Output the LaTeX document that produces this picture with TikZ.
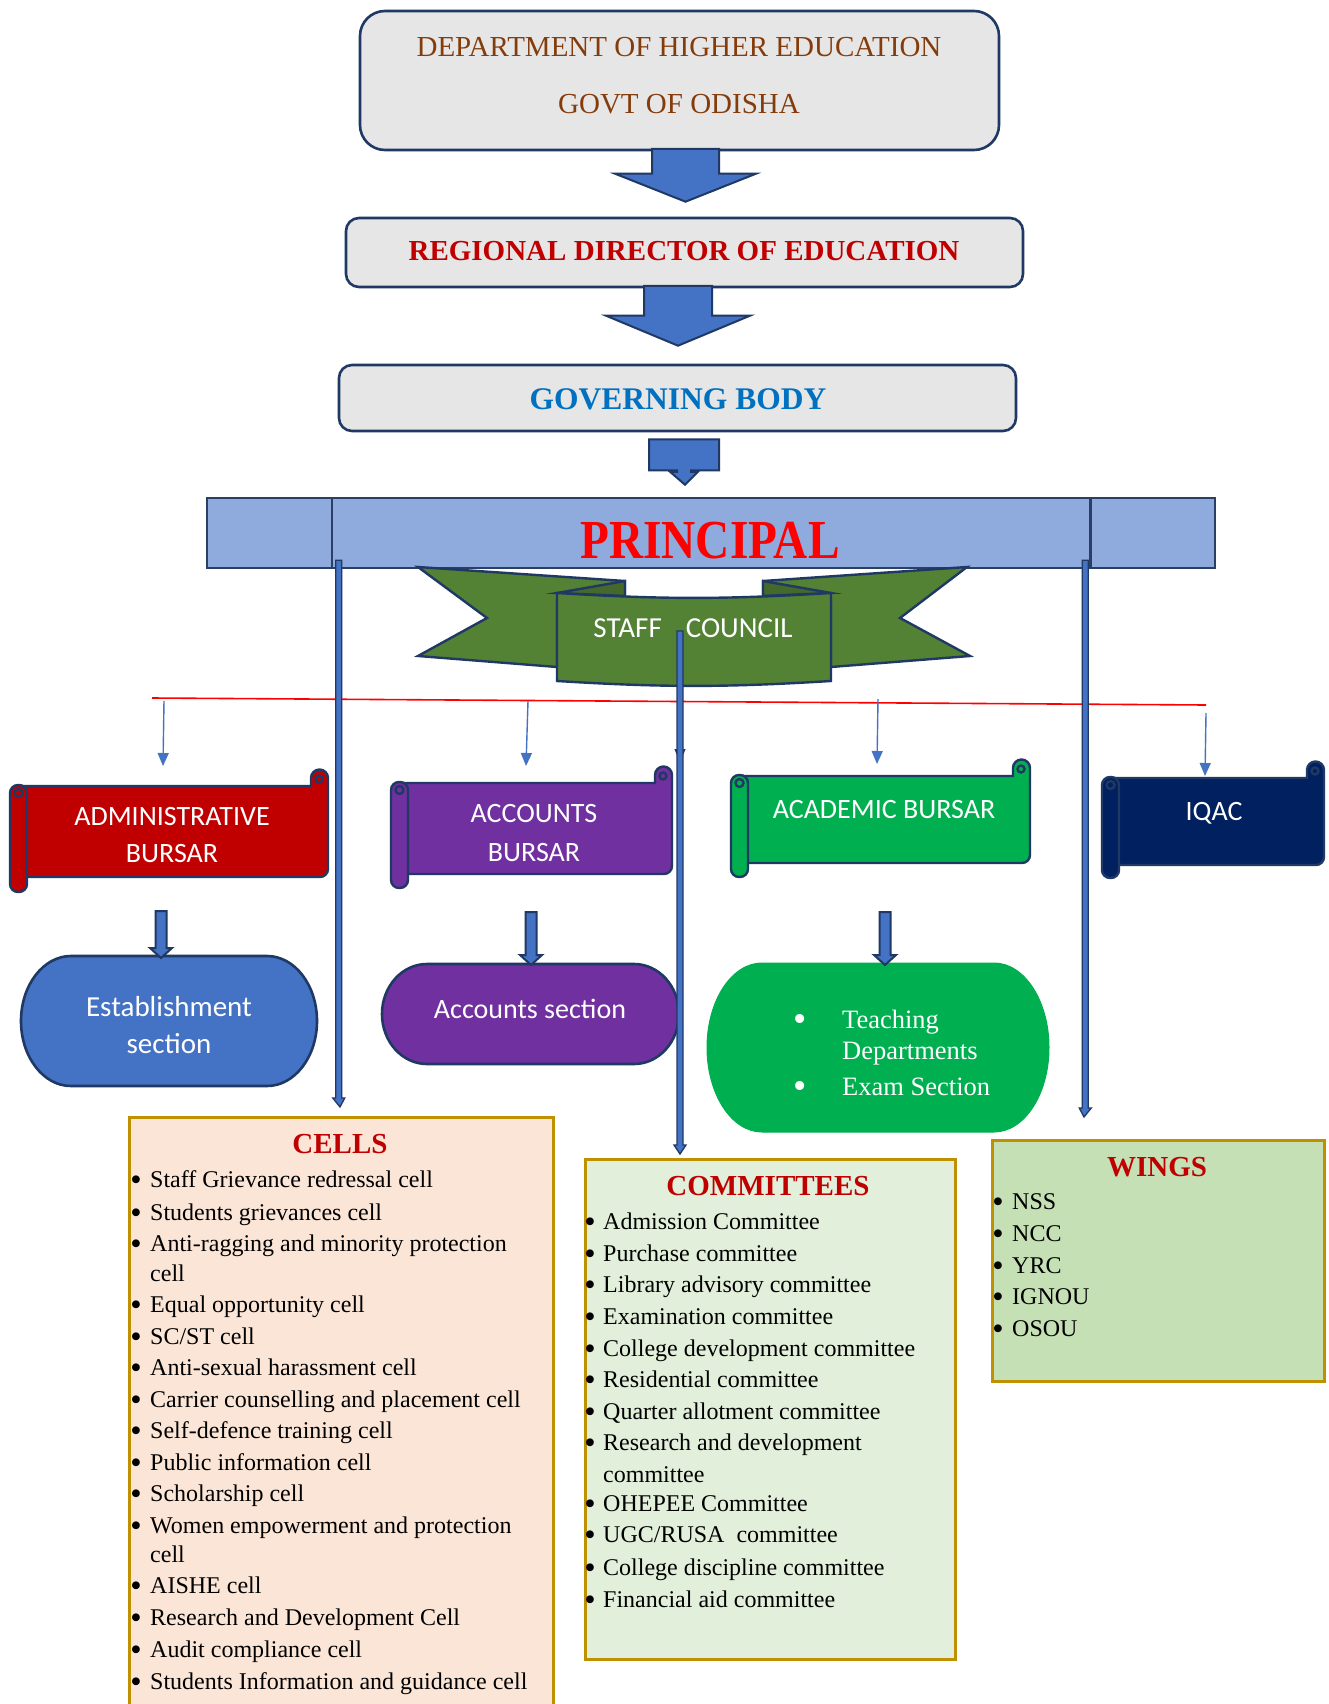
\documentclass[tikz,border=0pt]{standalone}
\usepackage{fontspec}
\setmainfont{Liberation Serif}
\newfontfamily\calfont{Carlito}
\usetikzlibrary{calc,arrows.meta}
\definecolor{navy}{HTML}{1F3864}
\definecolor{arrblue}{HTML}{4472C4}
\definecolor{boxgray}{HTML}{E7E6E6}
\definecolor{brownt}{HTML}{843C0C}
\definecolor{darkred}{HTML}{C00000}
\definecolor{govblue}{HTML}{0070C0}
\definecolor{princfill}{HTML}{8FAADC}
\definecolor{princline}{HTML}{2A3F63}
\definecolor{ribgreen}{HTML}{548235}
\definecolor{folddark}{HTML}{44692B}
\definecolor{purp}{HTML}{7030A0}
\definecolor{brightgreen}{HTML}{00B050}
\definecolor{iqacnavy}{HTML}{002060}
\definecolor{peach}{HTML}{FBE5D6}
\definecolor{palegreen}{HTML}{E2EFDA}
\definecolor{wingsgreen}{HTML}{C5E0B4}
\definecolor{gold}{HTML}{BF9000}
\definecolor{pred}{HTML}{FF0000}

\newcommand\fatarrow[6]{%
  \draw[#6] let \p1=(#1), \p2=(#2) in
    (\x1-#3,\y1) -- (\x1+#3,\y1) -- (\x1+#3,\y2+#5) -- (\x1+#4,\y2+#5) -- (\x2,\y2)
    -- (\x1-#4,\y2+#5) -- (\x1-#3,\y2+#5) -- cycle;}
\newcommand\scrollshape[6]{%
  \draw[scrollline, fill=#6] ({#1+8},{-#2}) -- ({#3-17},{-#2}) -- ({#3-17},{-#2+8})
    arc[start angle=180,end angle=0,radius=8.5] [rounded corners=8pt] -- ({#3},{-#4})
    -- ({#1+8},{-#4}) [sharp corners] -- cycle;
  \draw[scrollline] ({#3-9},{-#2+7}) circle[radius=3.5];
  \draw[scrollline, fill=#6, rounded corners=8pt] ({#1},{-#2+1}) rectangle ({#1+17},{-#5});
  \draw[scrollline] ({#1+8.5},{-#2-7}) circle[radius=4];}
\newcommand\stadium[6]{%
  \draw[#6] ({#1+#5},{-#2}) -- ({#3-#5},{-#2})
    arc[start angle=90,end angle=-90,x radius=#5,y radius={(#4-#2)/2}]
    -- ({#1+#5},{-#4})
    arc[start angle=270,end angle=90,x radius=#5,y radius={(#4-#2)/2}] -- cycle;}
\newcommand\bul{\raisebox{-3.5pt}{\scalebox{1.35}{•}}}

\begin{document}
\begin{tikzpicture}[x=1pt,y=1pt,
  box/.style={draw=navy, line width=2.6pt, fill=boxgray, inner sep=0pt},
  txt/.style={inner sep=0pt, anchor=base},
  ltxt/.style={inner sep=0pt, anchor=base west},
  serif29/.style={font=\fontsize{29}{34}\selectfont},
  bold29/.style={font=\fontsize{29}{34}\selectfont\bfseries},
  itemf/.style={font=\fontsize{24}{29}\selectfont},
  sansw/.style={font=\calfont\fontsize{28}{34}\selectfont, text=white},
  blockarr/.style={draw=navy, line width=2pt, fill=arrblue},
  longarr/.style={draw=navy, line width=1.3pt, fill=arrblue},
  thinarr/.style={draw=arrblue, line width=1.4pt, -{Triangle[width=11pt,length=13pt]}},
  scrollline/.style={draw=navy, line width=2.4pt},
  ribline/.style={draw=navy, line width=2.4pt},
  listbox/.style={draw=gold, line width=2.5pt, anchor=north west, inner sep=0pt},
]
\useasboundingbox (0,0) rectangle (1329,-1704);
\fill[white] (0,0) rectangle (1329,-1704);

% top boxes
\node[box, rounded corners=25pt, minimum width=639pt, minimum height=139pt] (dept) at (679.5,-80.5) {};
\node[txt, serif29, text=brownt] (deptt1) at (679,-56.6) {DEPARTMENT OF HIGHER EDUCATION};
\node[txt, serif29, text=brownt] (deptt2) at (679,-113.6) {GOVT OF ODISHA};
\node[box, rounded corners=13pt, minimum width=677pt, minimum height=69pt] (rde) at (684.5,-252.5) {};
\node[txt, bold29, text=darkred] (rdet) at (684,-260.6) {REGIONAL DIRECTOR OF EDUCATION};
\node[box, rounded corners=13pt, minimum width=677pt, minimum height=66pt] (gov) at (677.5,-398) {};
\node[txt, font=\fontsize{31.5}{36}\selectfont\bfseries, text=govblue] (govt) at (678,-409) {GOVERNING BODY};

% principal bar
\node[draw=princline, line width=2.5pt, fill=princfill, minimum width=1008pt, minimum height=70pt, inner sep=0pt] (princ) at (711,-533) {};
\draw[princline, line width=2.5pt] ($(princ.north west)+(126,-1)$) -- ($(princ.south west)+(126,1)$);
\draw[princline, line width=2.5pt] ($(princ.north east)+(-126,-1)$) -- ($(princ.south east)+(-126,1)$);
\node[txt, font=\fontsize{55}{60}\selectfont\bfseries, text=pred] (princt) at (710,-558) {\scalebox{0.86}[1]{PRINCIPAL}};

% block arrows
\coordinate (a1s) at ($(dept.south)+(6,2.5)$);
\coordinate (a1e) at ($(rde.north)+(1,15)$);
\fatarrow{a1s}{a1e}{33.5}{70.5}{28}{blockarr}
\coordinate (a2s) at ($(rde.south)+(-6.5,2.5)$);
\coordinate (a2e) at ($(gov.north)+(0.5,18)$);
\fatarrow{a2s}{a2e}{34}{72}{30}{blockarr}
\coordinate (a3s) at ($(gov.south)+(6.5,-7)$);
\coordinate (a3e) at ($(princ.north)+(-26,12)$);
\draw[blockarr] let \p1=(a3s), \p2=(a3e) in
  (\x1-35,\y1) -- (\x1+35,\y1) -- (\x1+35,\y1-31) -- (\x1+7,\y1-31) -- (\x1+7,\y2+13)
  -- (\x1+14,\y2+13) -- (\x2,\y2) -- (\x1-14,\y2+13) -- (\x1-7,\y2+13) -- (\x1-7,\y1-31)
  -- (\x1-35,\y1-31) -- cycle;

% staff council ribbon
\draw[ribline, fill=ribgreen] (418,-567) -- (625,-581) -- (625,-600) -- (557,-600) -- (557,-667) -- (418,-656) -- (487,-618) -- cycle;
\draw[ribline, fill=folddark] (625,-581) -- (557,-593) -- (625,-596) -- cycle;
\draw[ribline, fill=ribgreen] (967,-567) -- (763,-581) -- (763,-600) -- (831,-600) -- (831,-667) -- (970,-656) -- (900,-618) -- cycle;
\draw[ribline, fill=folddark] (763,-581) -- (831,-593) -- (763,-596) -- cycle;
\draw[ribline, fill=ribgreen] (557,-593) to[bend right=3.5] (831,-593) -- (831,-681) to[bend left=3.5] (557,-681) -- cycle;
\node[txt, sansw, font=\calfont\fontsize{29}{34}\selectfont] (staff) at (693,-637) {STAFF\hspace*{24pt}COUNCIL};

% red line
\coordinate (rl1) at (152,-698);
\coordinate (rl2) at (1206,-705);
\draw[pred, line width=1.6pt] (rl1) -- (rl2);

% scrolls
\scrollshape{10}{786}{328}{877}{892}{darkred}
\scrollshape{391}{783}{672}{874}{888}{purp}
\scrollshape{731}{776}{1030}{863}{877}{brightgreen}
\scrollshape{1102}{778}{1324}{865}{878}{iqacnavy}
\node[txt, sansw] (admin) at (172,-825) {ADMINISTRATIVE};
\node[txt, sansw] (admin2) at (172,-862) {BURSAR};
\node[txt, sansw] (acc) at (534,-822) {ACCOUNTS};
\node[txt, sansw] (acc2) at (534,-861) {BURSAR};
\node[txt, sansw] (acad) at (884,-818) {ACADEMIC BURSAR};
\node[txt, sansw] (iqac) at (1214,-820) {IQAC};

% thin arrows from red line
\coordinate (ra1) at (164,-701); \coordinate (ta1) at (163,-766);
\coordinate (ra2) at (528,-701); \coordinate (ta2) at (526,-766);
\coordinate (ra3) at (878,-699); \coordinate (ta3) at (877,-764);
\coordinate (ra4) at (1206,-713); \coordinate (ta4) at (1205,-776);
\draw[thinarr] (ra1) -- (ta1);
\draw[thinarr] (ra2) -- (ta2);
\draw[thinarr] (ra3) -- (ta3);
\draw[thinarr] (ra4) -- (ta4);

% sections
\stadium{21}{956}{317}{1086}{50}{draw=navy, line width=2.6pt, fill=arrblue}
\stadium{382}{964}{679}{1064}{45}{draw=navy, line width=2.6pt, fill=purp}
\stadium{707}{963}{1049}{1132}{55}{draw=brightgreen, line width=1pt, fill=brightgreen}
\node[txt, sansw, font=\calfont\fontsize{29}{34}\selectfont] (est1) at (169,-1016) {Establishment};
\node[txt, sansw, font=\calfont\fontsize{29}{34}\selectfont] (est2) at (169,-1053) {section};
\node[txt, sansw] (accsec) at (530,-1018) {Accounts section};
\node[txt, text=white, font=\fontsize{28}{34}\selectfont] (ab1) at (800,-1028) {\bul};
\node[txt, text=white, font=\fontsize{28}{34}\selectfont] (ab2) at (800,-1095) {\bul};
\node[ltxt, text=white, font=\fontsize{26.5}{30}\selectfont] (tea1) at (842,-1028) {Teaching};
\node[ltxt, text=white, font=\fontsize{26.5}{30}\selectfont] (tea2) at (842,-1059) {Departments};
\node[ltxt, text=white, font=\fontsize{26.5}{30}\selectfont] (exs) at (842,-1095) {Exam Section};

% bursar -> section arrows
\coordinate (f1s) at (161,-911); \coordinate (f1e) at (161,-958);
\coordinate (f2s) at (531,-912); \coordinate (f2e) at (531,-965);
\coordinate (f3s) at (885,-912); \coordinate (f3e) at (885,-965);
\fatarrow{f1s}{f1e}{5.5}{11}{10}{blockarr}
\fatarrow{f2s}{f2e}{5.5}{11}{10}{blockarr}
\fatarrow{f3s}{f3e}{5.5}{11}{10}{blockarr}

% lists
\node[listbox, fill=peach, minimum width=424pt, minimum height=600pt] (cells) at (128,-1116) {};
\node[listbox, fill=palegreen, minimum width=370pt, minimum height=500pt] (comm) at (584,-1158) {};
\node[listbox, fill=wingsgreen, minimum width=332pt, minimum height=241pt] (wings) at (991,-1139) {};

\node[txt, bold29, text=darkred] (cellst) at (340,-1153.6) {CELLS};
\node[txt, bold29, text=darkred] (commt) at (768,-1195.6) {COMMITTEES};
\node[txt, bold29, text=darkred] (wingst) at (1157,-1176.6) {WINGS};

\foreach \y/\t in {1179/{Staff Grievance redressal cell},1212/{Students grievances cell},
  1243/{Anti-ragging and minority protection},1273/{cell},1304/{Equal opportunity cell},
  1336/{SC/ST cell},1367/{Anti-sexual harassment cell},1399/{Carrier counselling and placement cell},
  1430/{Self-defence training cell},1462/{Public information cell},1493/{Scholarship cell},
  1525/{Women empowerment and protection},1554/{cell},1585/{AISHE cell},
  1617/{Research and Development Cell},1649/{Audit compliance cell},
  1681/{Students Information and guidance cell}}
  \node[ltxt, itemf] (cell\y) at (150,{-\y-8}) {\t};
\foreach \y in {1179,1212,1243,1304,1336,1367,1399,1430,1462,1493,1525,1585,1617,1649,1681}
  \node[txt, itemf] (cb\y) at (136,{-\y-8}) {\bul};

\foreach \y/\t in {1221/{Admission Committee},1253/{Purchase committee},1284/{Library advisory committee},
  1316/{Examination committee},1348/{College development committee},1379/{Residential committee},
  1411/{Quarter allotment committee},1442/{Research and development},1474/{committee},
  1503/{OHEPEE Committee},1534/{UGC/RUSA\ \ committee},1567/{College discipline committee},
  1599/{Financial aid committee}}
  \node[ltxt, itemf] (com\y) at (603,{-\y-8}) {\t};
\foreach \y in {1221,1253,1284,1316,1348,1379,1411,1442,1503,1534,1567,1599}
  \node[txt, itemf] (mb\y) at (590,{-\y-8}) {\bul};

\foreach \y/\t in {1201/NSS,1233/NCC,1265/YRC,1296/IGNOU,1328/OSOU}
  \node[ltxt, itemf] (w\y) at (1012,{-\y-8}) {\t};
\foreach \y in {1201,1233,1265,1296,1328}
  \node[txt, itemf] (wb\y) at (998,{-\y-8}) {\bul};

% small arrow tip on middle line
\coordinate (rm) at (680,-702); \coordinate (tm) at (680,-762);
\draw[thinarr, draw=navy] (rm) -- (tm);

% long arrows
\coordinate (l1s) at ($(princ.south west)+(133,9)$);
\coordinate (l1e) at ($(cells.north west)+(212,9)$);
\coordinate (l2s) at (680,-631);
\coordinate (l2e) at ($(comm.north west)+(96,4)$);
\coordinate (l3s) at ($(princ.south east)+(-131,9)$);
\coordinate (l3e) at ($(wings.north west)+(93,22)$);
\fatarrow{l1s}{l1e}{3}{6}{9}{longarr}
\fatarrow{l2s}{l2e}{3}{6}{9}{longarr}
\fatarrow{l3s}{l3e}{3}{6}{9}{longarr}
\end{tikzpicture}
\end{document}
